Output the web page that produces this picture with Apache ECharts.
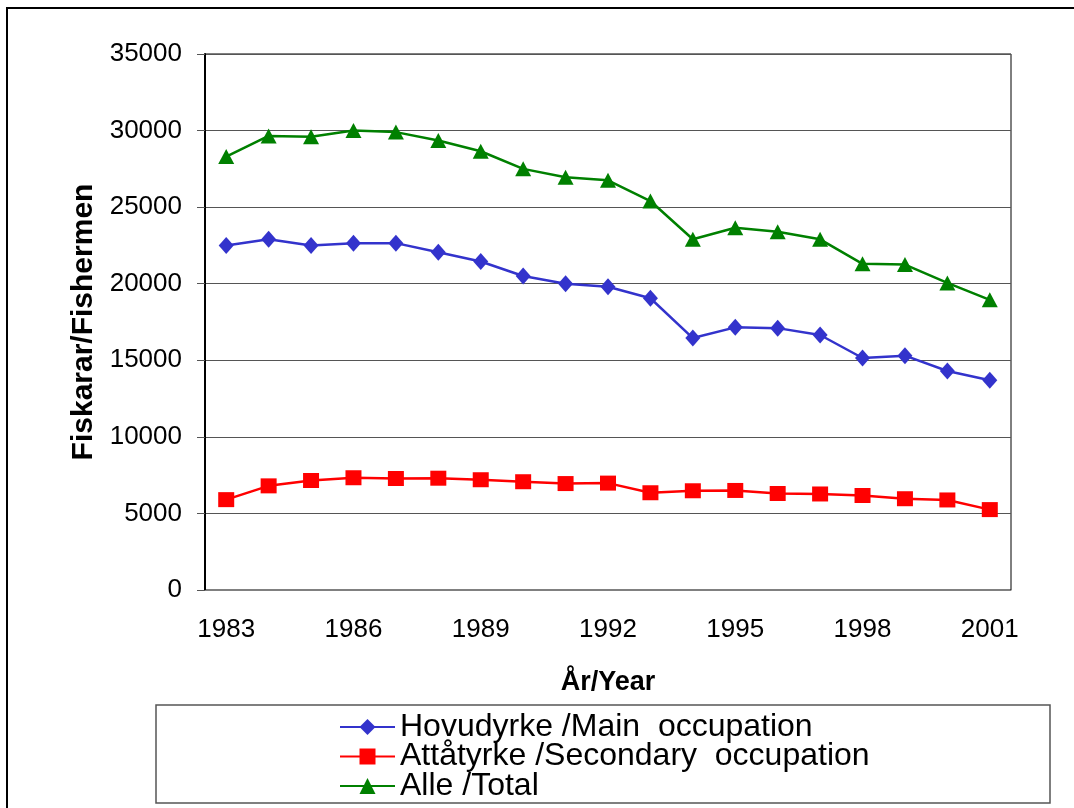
<!DOCTYPE html>
<html>
<head>
<meta charset="utf-8">
<script src="https://cdn.jsdelivr.net/npm/echarts@6/dist/echarts.min.js"></script>
<style>
  html, body { margin: 0; padding: 0; background: #fff; }
  #main { width: 1074px; height: 808px; }
</style>
</head>
<body>
<div id="main"></div>
<script>
// år og tal fiskarar
var years = ['1983', '1984', '1985', '1986', '1987', '1988', '1989', '1990', '1991', '1992',
             '1993', '1994', '1995', '1996', '1997', '1998', '1999', '2000', '2001'];
var hovudyrke = [22500, 22900, 22500, 22650, 22650, 22050, 21450, 20500, 20000, 19800,
                 19050, 16450, 17150, 17100, 16650, 15150, 15300, 14300, 13700];
var attatyrke = [5900, 6800, 7150, 7330, 7280, 7300, 7200, 7070, 6950, 6980,
                 6350, 6480, 6500, 6300, 6270, 6170, 5960, 5880, 5250];
var alle = [28300, 29650, 29600, 30000, 29900, 29350, 28650, 27500, 26950, 26750,
            25400, 22900, 23650, 23400, 22900, 21300, 21250, 20050, 18950];
var seriesNames = ['Hovudyrke /Main  occupation', 'Attåtyrke /Secondary  occupation', 'Alle /Total'];

var font = "'Liberation Sans', Arial, sans-serif";
var chart = echarts.init(document.getElementById('main'));

var option = {
    animation: false,
    textStyle: { fontFamily: font },
    grid: {
        left: 205, right: 63, top: 54, bottom: 218,
        show: true, borderColor: '#000', borderWidth: 1, backgroundColor: 'transparent'
    },
    graphic: [
        { // ytre ramme
            type: 'rect', z: -1,
            shape: { x: 7, y: 8, width: 1100, height: 900 },
            style: { fill: 'none', stroke: '#000', lineWidth: 2 }
        },
        { // ramme rundt forklaringa
            type: 'rect', z: -1,
            shape: { x: 156, y: 705, width: 894, height: 98 },
            style: { fill: 'none', stroke: '#555', lineWidth: 1.5 }
        }
    ],
    legend: {
        orient: 'vertical',
        left: 339, top: 711,
        padding: 0,
        itemGap: -2.5,
        itemWidth: 55, itemHeight: 20,
        textStyle: { fontSize: 32, color: '#000', lineHeight: 28.5, fontFamily: font },
        data: seriesNames
    },
    xAxis: {
        type: 'category',
        data: years,
        boundaryGap: true,
        name: 'År/Year',
        nameLocation: 'middle',
        nameGap: 79,
        nameTextStyle: { fontSize: 27, fontWeight: 'bold', color: '#000' },
        axisLine: { lineStyle: { color: '#808080', width: 1 } },
        axisTick: { interval: 0, length: 8, lineStyle: { color: '#808080' } },
        axisLabel: { interval: 2, fontSize: 26, color: '#000', margin: 27 }
    },
    yAxis: {
        type: 'value',
        min: 0, max: 35000, interval: 5000,
        name: 'Fiskarar/Fishermen',
        nameLocation: 'middle',
        nameGap: 104,
        nameTextStyle: { fontSize: 30, fontWeight: 'bold', color: '#000' },
        axisLine: { show: true, lineStyle: { color: '#000', width: 2 } },
        axisTick: { show: true, length: 8, lineStyle: { color: '#555' } },
        axisLabel: {
            fontSize: 26, color: '#000', margin: 23,
            formatter: function (v) { return String(v); }
        },
        splitLine: { lineStyle: { color: '#555', width: 1 } }
    },
    series: [
        {
            name: seriesNames[0], type: 'line', data: hovudyrke,
            symbol: 'diamond', symbolSize: [15, 17],
            itemStyle: { color: '#3333CC' },
            lineStyle: { color: '#3333CC', width: 2.5 }
        },
        {
            name: seriesNames[1], type: 'line', data: attatyrke,
            symbol: 'rect', symbolSize: [16, 15],
            itemStyle: { color: '#FF0000' },
            lineStyle: { color: '#FF0000', width: 2.5 }
        },
        {
            name: seriesNames[2], type: 'line', data: alle,
            symbol: 'triangle', symbolSize: [16, 15],
            itemStyle: { color: '#008000' },
            lineStyle: { color: '#008000', width: 2.5 }
        }
    ]
};

chart.setOption(option);
</script>
</body>
</html>
